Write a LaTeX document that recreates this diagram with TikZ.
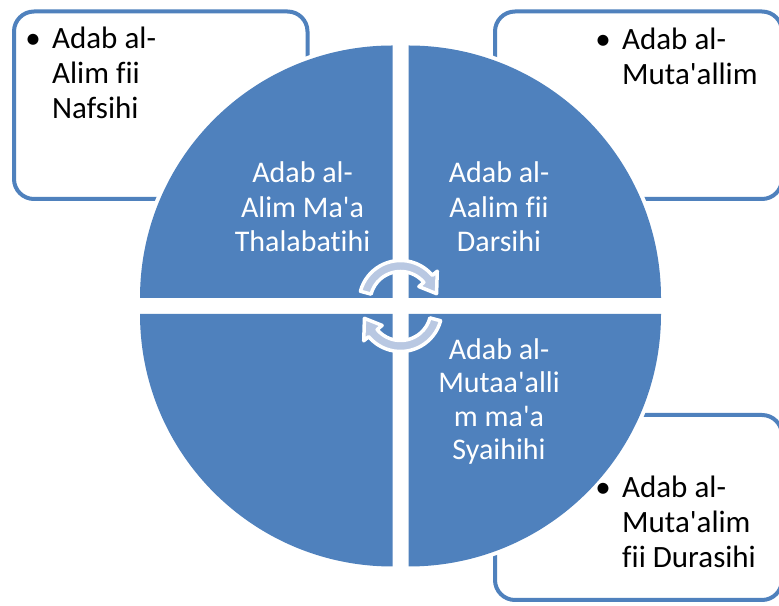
\documentclass[tikz,border=0pt]{standalone}
\usepackage{fontspec}
\setmainfont{Carlito}[Ligatures={TeXOff,CommonOff}]
\definecolor{qblue}{HTML}{4F81BD}
\definecolor{arrowfill}{HTML}{B9C8E2}
\begin{document}
\begin{tikzpicture}[x=1pt,y=1pt,
  infobox/.style={draw=qblue,line width=4pt,rounded corners=20pt,fill=white},
  halo/.style={draw=white,line width=8pt,fill=white},
  quad/.style={fill=qblue},
  cyctext/.style={text=white,align=center,inner sep=0pt,anchor=base,font=\fontsize{30}{34.5}\selectfont},
  boxtext/.style={text=black,align=left,inner sep=0pt,anchor=base west,font=\fontsize{31}{35}\selectfont},
  cycarrow/.style={fill=arrowfill,draw=white,line width=3.5pt,line join=round}]
\useasboundingbox (0,0) rectangle (779,605);
\clip (0,0) rectangle (779,605);
% boxes
\draw[infobox] (14,406) rectangle (307.5,593.5);
\draw[infobox] (495,406) rectangle (782,593.5);
\draw[infobox] (495,5) rectangle (782,190);
% quadrants: white halo then blue fill
\def\R{252.5}
\foreach \cx/\cy/\a/\b in {392.5/307/180/90, 408.5/307/90/0, 408.5/291/0/-90, 392.5/291/-90/-180}{
  \path[halo] (\cx,\cy) -- ++(\a:\R) arc[start angle=\a,end angle=\b,radius=\R] -- cycle;
}
\path[quad] (392.5,307) -- ++(180:\R) arc[start angle=180,end angle=90,radius=\R] -- cycle;
\path[quad] (408.5,307) -- ++(90:\R) arc[start angle=90,end angle=0,radius=\R] -- cycle;
\path[quad] (408.5,291) -- ++(0:\R) arc[start angle=0,end angle=-90,radius=\R] -- cycle;
\path[quad] (392.5,291) -- ++(-90:\R) arc[start angle=-90,end angle=-180,radius=\R] -- cycle;
% circular arrows
\def\rm{36}\def\hw{5.5}\def\hh{12}
\begin{scope}[shift={(400.5,303)}]
  \draw[cycarrow] (165:\rm+\hw) arc[start angle=165,end angle=40,radius=\rm+\hw]
    -- (40:\rm+\hh) -- (13:\rm+1) -- (40:\rm-\hh) -- (40:\rm-\hw)
    arc[start angle=40,end angle=165,radius=\rm-\hw] -- cycle;
\end{scope}
\begin{scope}[shift={(400.5,295)}]
  \draw[cycarrow] (-15:\rm+\hw) arc[start angle=-15,end angle=-140,radius=\rm+\hw]
    -- (-140:\rm+\hh) -- (-167:\rm+1) -- (-140:\rm-\hh) -- (-140:\rm-\hw)
    arc[start angle=-140,end angle=-15,radius=\rm-\hw] -- cycle;
\end{scope}
% quadrant texts (anchor base = last line baseline)
\node[cyctext] (ttl) at (302.5,353) {Adab al-\\Alim Ma'a\\Thalabatihi};
\node[cyctext] (ttr) at (499,353) {Adab al-\\Aalim fii\\Darsihi};
\node[cyctext,font=\fontsize{30}{33.5}\selectfont] (tbr) at (499,145) {Adab al-\\Mutaa'alli\\m ma'a\\Syaihihi};
% box texts
\node[boxtext] (btl) at (52,486) {\llap{•\hspace{11.5pt}}Adab al-\\Alim fii\\Nafsihi};
\node[boxtext] (btr) at (622,520) {\llap{•\hspace{11.5pt}}Adab al-\\Muta'allim};
\node[boxtext] (bbr) at (622,37) {\llap{•\hspace{11.5pt}}Adab al-\\Muta'alim\\fii Durasihi};
\end{tikzpicture}
\end{document}
